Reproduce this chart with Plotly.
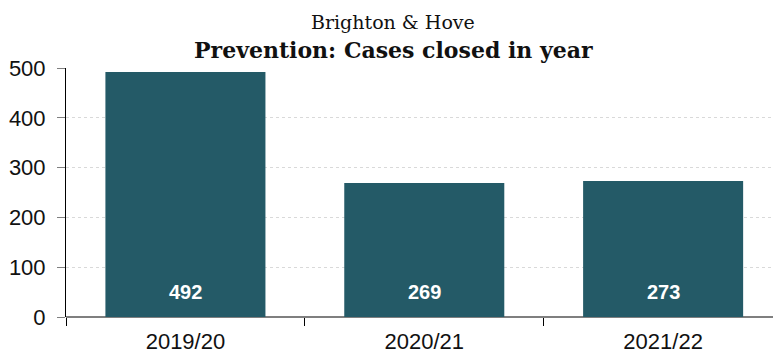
import plotly.graph_objects as go

categories = ["2019/20", "2020/21", "2021/22"]
values = [492, 269, 273]
title_line1 = "Brighton & Hove"
title_line2 = "Prevention: Cases closed in year"
y_ticks = [0, 100, 200, 300, 400, 500]

bar_color = "#245a67"

W, H = 773, 354
ML, MR, MT, MB = 66, 0, 68, 37
plot_w = W - ML - MR
plot_h = H - MT - MB


def px_to_paper(xpx, ypx):
    return (xpx - ML) / plot_w, (H - MB - ypx) / plot_h


fig = go.Figure()
fig.add_trace(go.Bar(
    x=categories, y=values,
    marker=dict(color=bar_color, line=dict(width=0)),
    width=0.67,
    hoverinfo="x+y",
))

x1, y1 = px_to_paper(393, 22)
x2, y2 = px_to_paper(393, 50)

annotations = [
    dict(text=title_line1, x=x1, xref="paper", y=y1, yref="paper", showarrow=False,
         font=dict(family="DejaVu Serif, Georgia, serif", size=19, color="#111"),
         xanchor="center", yanchor="middle"),
    dict(text="<b>" + title_line2 + "</b>", x=x2, xref="paper", y=y2, yref="paper", showarrow=False,
         font=dict(family="DejaVu Serif, Georgia, serif", size=22, color="#111"),
         xanchor="center", yanchor="middle"),
]
# value labels placed inside the bars near their base
for c, v in zip(categories, values):
    annotations.append(dict(
        text="<b>%d</b>" % v, x=c, y=0, xref="x", yref="y",
        showarrow=False, xanchor="center", yanchor="bottom", yshift=12,
        font=dict(family="Liberation Sans, Arial, sans-serif", size=20, color="white"),
    ))

fig.update_layout(
    width=W, height=H,
    margin=dict(l=ML, r=MR, t=MT, b=MB),
    paper_bgcolor="white", plot_bgcolor="white",
    showlegend=False,
    annotations=annotations,
)

fig.update_xaxes(
    range=[-0.5, 2.46],
    tickson="boundaries",
    ticks="outside", ticklen=8, tickcolor="black", tickwidth=1,
    ticklabelstandoff=9,
    showline=False, showgrid=False,
    tickfont=dict(family="Liberation Sans, Arial, sans-serif", size=22, color="#111"),
    fixedrange=True,
)
fig.update_yaxes(
    range=[0, 500],
    tickvals=y_ticks,
    ticks="outside", ticklen=8, tickcolor="#7f7f7f", tickwidth=1,
    ticklabelstandoff=7,
    showline=True, linecolor="black", linewidth=1,
    showgrid=True, gridcolor="#d9d9d9", griddash="dot", gridwidth=1,
    zeroline=True, zerolinecolor="#7f7f7f", zerolinewidth=2,
    tickfont=dict(family="Liberation Sans, Arial, sans-serif", size=22, color="#111"),
    fixedrange=True,
)

fig.write_html("out.html")
